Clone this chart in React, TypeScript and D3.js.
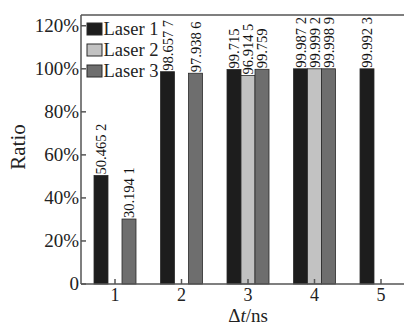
import React from 'react';
import * as d3 from 'd3';

const delays = [1, 2, 3, 4, 5];
const seriesNames = ['Laser 1', 'Laser 2', 'Laser 3'];
const laser1 = [50.4652, 98.6577, 99.715, 99.9872, 99.9923];
const laser2 = [null, null, 96.9145, 99.9992, null];
const laser3 = [30.1941, 97.9386, 99.759, 99.9989, null];
const yTicks = [0, 20, 40, 60, 80, 100, 120];
const colors = ['#1d1d1d', '#c2c2c2', '#6e6e6e'];

const W = 404;
const H = 325;
const serif = { fontFamily: "'Liberation Serif'" };

// 50.4652 -> "50.465 2"
const fmt = (v: number) => {
  const [a, b] = String(v).split('.');
  if (!b) return a;
  return a + '.' + (b.match(/.{1,3}/g) || []).join(' ');
};

const left = 81;
const bottom = 284;
const top = 15;

const x = d3.scaleLinear().domain([1, 5]).range([115, 381]);
const y = d3.scaleLinear().domain([0, 125]).range([bottom, top]);
const sub = d3.scaleBand<string>().domain(seriesNames).range([-21, 21]);

const App = () => {
  const series = [laser1, laser2, laser3];
  const bars: { s: number; d: number; v: number }[] = [];
  series.forEach((vals, s) =>
    vals.forEach((v, i) => {
      if (v != null) bars.push({ s, d: delays[i], v });
    })
  );
  const bx = (b: { s: number; d: number }) => x(b.d) + (sub(seriesNames[b.s]) as number);

  return (
    <svg width={W} height={H} style={{ position: 'absolute', left: 0, top: 0, background: '#fff', ...serif }}>
      {bars.map((b, i) => (
        <rect
          key={'b' + i}
          x={bx(b)}
          y={y(b.v)}
          width={sub.bandwidth()}
          height={bottom - y(b.v)}
          fill={colors[b.s]}
          stroke="#2a2a2a"
          strokeWidth={0.8}
        />
      ))}
      {bars.map((b, i) => (
        <text
          key={'t' + i}
          transform={`translate(${bx(b) + sub.bandwidth() / 2},${y(b.v) - 1}) rotate(-90)`}
          dy="0.35em"
          fontSize={14.5}
          fill="#111"
          style={serif}
        >
          {fmt(b.v)}
        </text>
      ))}

      <g stroke="#555" strokeWidth={1.5}>
        <line x1={left} x2={W + 2} y1={top} y2={top} />
        <line x1={left} x2={W + 2} y1={bottom} y2={bottom} />
        <line x1={left} x2={left} y1={top} y2={bottom} />
        {yTicks.map(t => (
          <line key={'yt' + t} x1={left} x2={left + 5} y1={y(t)} y2={y(t)} />
        ))}
        {delays.map(d => (
          <line key={'xt' + d} x1={x(d)} x2={x(d)} y1={bottom} y2={bottom - 5} />
        ))}
      </g>

      {yTicks.map(t => (
        <text key={'yl' + t} x={left - 2} y={y(t)} dy="0.34em" textAnchor="end" fontSize={19} fill="#222" style={serif}>
          {t === 0 ? '0' : `${t}%`}
        </text>
      ))}
      {delays.map(d => (
        <text key={'xl' + d} x={x(d)} y={bottom + 17} textAnchor="middle" fontSize={18} fill="#222" style={serif}>
          {d}
        </text>
      ))}

      <text transform="translate(25,147) rotate(-90)" textAnchor="middle" fontSize={21} fill="#222" style={serif}>
        Ratio
      </text>
      <text x={248} y={322} textAnchor="middle" fontSize={19} fill="#222" style={serif}>
        <tspan>{'\u0394'}</tspan>
        <tspan fontStyle="italic">t</tspan>
        <tspan>/ns</tspan>
      </text>

      {seriesNames.map((n, i) => (
        <g key={n} transform={`translate(87,${29 + i * 21})`}>
          <rect x={0} y={-6} width={15} height={12} fill={colors[i]} stroke="#2a2a2a" strokeWidth={1} />
          <text x={16.5} y={6} fontSize={18.5} fill="#222" style={serif}>
            {n}
          </text>
        </g>
      ))}
    </svg>
  );
};

export default App;
